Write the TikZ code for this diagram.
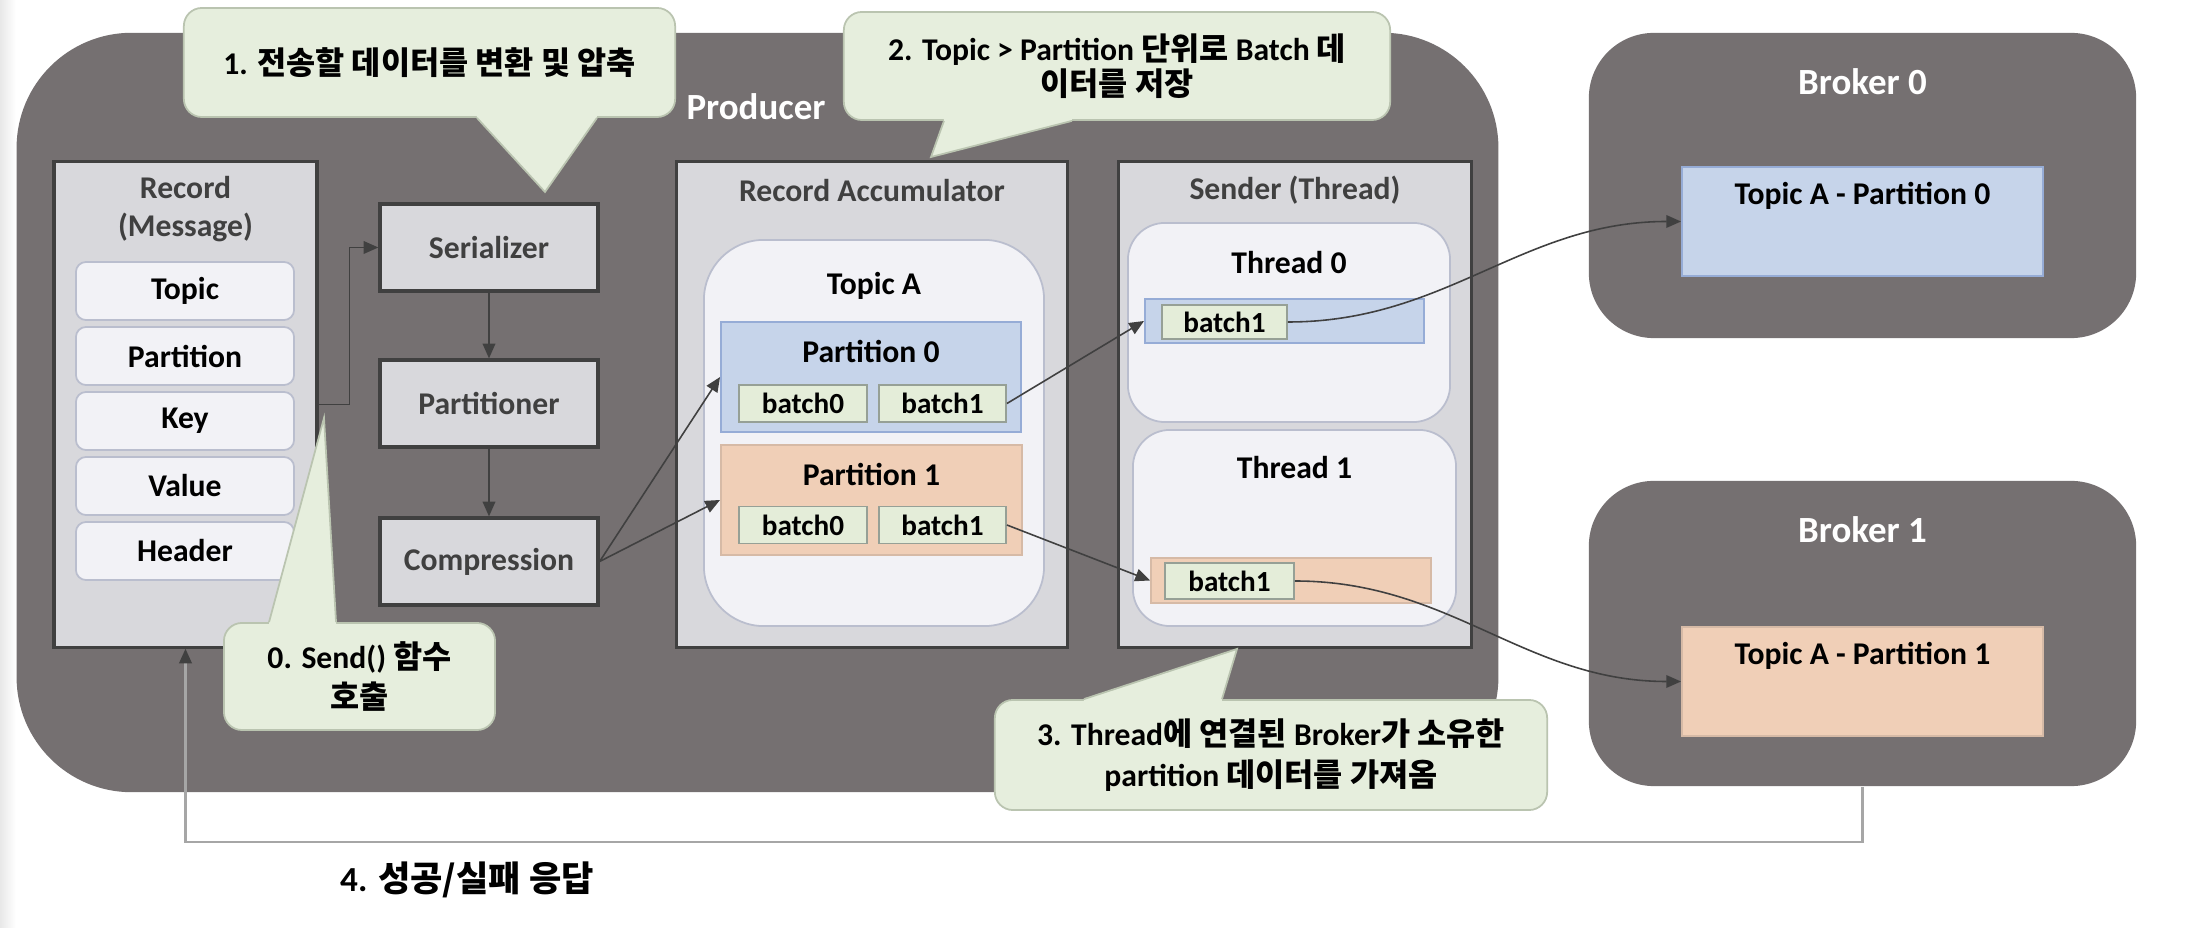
\documentclass[tikz,border=0pt]{standalone}
\usepackage{fontspec}
\setmainfont{Carlito}
\newfontfamily\krfont{Noto Sans CJK KR}
\newcommand{\hg}[1]{{\krfont #1}}
\usetikzlibrary{arrows.meta}
\usetikzlibrary{calc}
\usetikzlibrary{positioning}

\definecolor{prodgray}{RGB}{117,112,113}
\definecolor{boxgray}{RGB}{216,216,220}
\definecolor{boxline}{RGB}{64,64,64}
\definecolor{pale}{RGB}{242,242,246}
\definecolor{paleline}{RGB}{186,190,206}
\definecolor{partblue}{RGB}{198,212,234}
\definecolor{blueline}{RGB}{150,172,214}
\definecolor{partpeach}{RGB}{240,207,183}
\definecolor{peachline}{RGB}{214,186,166}
\definecolor{batchgreen}{RGB}{228,237,217}
\definecolor{batchline}{RGB}{150,160,150}
\definecolor{callfill}{RGB}{230,238,221}
\definecolor{callline}{RGB}{186,196,176}
\definecolor{txtgray}{RGB}{64,64,64}

\begin{document}
\begin{tikzpicture}[%
		x=0.01cm, y=-0.01cm,
		>={Triangle[length=4.2pt,width=3.6pt]},
		every node/.style={font=\bfseries\fontsize{9}{11}\selectfont, inner sep=0pt},
		darkbox/.style={rectangle, fill=prodgray, draw=none},
		gbox/.style={rectangle, fill=boxgray, draw=boxline, line width=0.9pt},
		palebox/.style={rectangle, rounded corners=0.6cm, fill=pale, draw=paleline, line width=0.5pt},
		field/.style={rectangle, rounded corners=0.1cm, fill=pale, draw=paleline, line width=0.5pt, minimum width=2.18cm, minimum height=0.58cm},
		stage/.style={gbox, minimum width=2.18cm, minimum height=0.87cm, text=txtgray},
		bluebox/.style={rectangle, fill=partblue, draw=blueline, line width=0.5pt},
		peachbox/.style={rectangle, fill=partpeach, draw=peachline, line width=0.5pt},
		batch/.style={rectangle, fill=batchgreen, draw=batchline, line width=0.5pt, minimum height=0.37cm, font=\bfseries\fontsize{8.3}{10}\selectfont},
		hdr/.style={text=txtgray, align=center},
		big/.style={text=white, font=\bfseries\fontsize{10.5}{12}\selectfont},
		callout/.style={rectangle, rounded corners=0.18cm, fill=callfill, draw=callline, line width=0.5pt, align=center, font=\bfseries\fontsize{9}{11.5}\selectfont},
		arr/.style={->, draw=black!75, line width=0.45pt},
		retline/.style={-{Triangle[length=4.2pt,width=3.6pt,color=black!75]}, draw=black!35, line width=0.6pt}
		]
		% 2196 x 928 px, 1px = 0.01cm, y downwards
		\fill[white] (0,0) rectangle (2196,928);
		\shade[left color=black!9, right color=white] (0,0) rectangle (16,928);
		\useasboundingbox (0,0) rectangle (2196,928);
		%%%%%%%%%%%%%%%
		%    NODES    %
		%%%%%%%%%%%%%%%
		% Producer / brokers
		\node[darkbox, rounded corners=1.15cm, minimum width=14.81cm, minimum height=7.59cm] (prod) at (757.5,412.5) {};
		\node[big] (prodT) at (756,107) {Producer};
		\node[darkbox, rounded corners=0.65cm, minimum width=5.47cm, minimum height=3.05cm] (b0) at (1862.5,185.5) {};
		\node[darkbox, rounded corners=0.65cm, minimum width=5.47cm, minimum height=3.05cm] (b1) at (1862.5,633.5) {};
		\node[big] (b0T) at ($(b0.north)+(0,49)$) {Broker 0};
		\node[big] (b1T) at ($(b1.north)+(0,49)$) {Broker 1};
		\node[bluebox, minimum width=3.61cm, minimum height=1.09cm] (bp0) at (1862.5,221.5) {};
		\node (bp0T) at ($(bp0.north)+(0,30)$) {Topic A - Partition 0};
		\node[peachbox, minimum width=3.61cm, minimum height=1.09cm] (bp1) at (1862.5,681.5) {};
		\node (bp1T) at ($(bp1.north)+(0,30)$) {Topic A - Partition 1};
		
		% Record
		\node[gbox, minimum width=2.63cm, minimum height=4.85cm] (rec) at (185.5,404.5) {};
		\node[hdr, font=\bfseries\fontsize{9}{10.8}\selectfont] (recT) at ($(rec.north)+(0,49)$) {Record\\(Message)};
		\foreach \f [count=\i] in {Topic,Partition,Key,Value,Header}
			\node[field] (f\i) at (185, 226+65*\i) {\f};
		
		% Serializer -> Compression
		\node[stage] (ser) at (489,247.5) {Serializer};
		\node[stage] (par) at (489,403.5) {Partitioner};
		\node[stage] (cmp) at (489,561.5) {Compression};
		
		% Record Accumulator
		\node[gbox, minimum width=3.90cm, minimum height=4.85cm] (acc) at (872,404.5) {};
		\node[hdr] (accT) at ($(acc.north)+(0,30)$) {Record Accumulator};
		\node[palebox, minimum width=3.40cm, minimum height=3.86cm] (topA) at (874,433) {};
		\node (topAT) at ($(topA.north)+(0,47)$) {Topic A};
		\node[bluebox, minimum width=3.00cm, minimum height=1.10cm] (p0) at (871,377) {};
		\node (p0T) at ($(p0.north)+(0,30)$) {Partition 0};
		\node[batch, minimum width=1.28cm] (p0b0) at (803,403.5) {batch0};
		\node[batch, minimum width=1.27cm] (p0b1) at (942.5,403.5) {batch1};
		\node[peachbox, minimum width=3.01cm, minimum height=1.10cm] (p1) at (871.5,500) {};
		\node (p1T) at ($(p1.north)+(0,30)$) {Partition 1};
		\node[batch, minimum width=1.28cm] (p1b0) at (803,525) {batch0};
		\node[batch, minimum width=1.27cm] (p1b1) at (942.5,525) {batch1};
		
		% Sender
		\node[gbox, minimum width=3.52cm, minimum height=4.85cm] (snd) at (1295,404.5) {};
		\node[hdr] (sndT) at ($(snd.north)+(0,30)$) {Sender (Thread)};
		\node[palebox, rounded corners=0.37cm, minimum width=3.22cm, minimum height=1.99cm] (th0) at (1289,322.5) {};
		\node (th0T) at ($(th0.north)+(0,40)$) {Thread 0};
		\node[bluebox, minimum width=2.79cm, minimum height=0.44cm] (t0bar) at (1284.5,321) {};
		\node[batch, minimum width=1.25cm, minimum height=0.34cm] (t0b1) at (1224.5,322) {batch1};
		\node[palebox, rounded corners=0.37cm, minimum width=3.23cm, minimum height=1.96cm] (th1) at (1294.5,528) {};
		\node (th1T) at ($(th1.north)+(0,38)$) {Thread 1};
		\node[peachbox, minimum width=2.80cm, minimum height=0.45cm] (t1bar) at (1291,580.5) {};
		\node[batch, minimum width=1.29cm, minimum height=0.36cm] (t1b1) at (1229.5,581) {batch1};
		
		%%%%%%%%%%%%%%%
		% CONNECTIONS %
		%%%%%%%%%%%%%%%
		\draw[arr] (rec.east) -- ++(31,0) |- (ser.west);
		\draw[arr] (ser.south) -- (par.north);
		\draw[arr] (par.south) -- (cmp.north);
		\draw[arr] (cmp.east) -- (p0.west);
		\draw[arr] (cmp.east) -- (p1.west);
		\draw[arr] (p0b1.east) -- (t0bar.west);
		\draw[arr] (p1b1.east) -- (t1bar.west);
		\draw[arr] (t0b1.east) to[out=0, in=180] (bp0.west);
		\draw[arr] (t1b1.east) to[out=0, in=180] (bp1.west);
		
		% response back to the record
		\coordinate (ret) at (1000,842);
		\draw[retline] (b1.south) |- (ret) -| (rec.south);
		\node[font=\bfseries\fontsize{10}{12}\selectfont] (ack) at (467,880) {4. \hg{성공/실패 응답}};
		
		%%%%%%%%%%%%%%%
		%  CALLOUTS   %
		%%%%%%%%%%%%%%%
		\coordinate (t0) at (324,418);
		\coordinate (t1) at (545,192);
		\coordinate (t2) at (931,157);
		\coordinate (t3) at (1237,649);
		
		% 0. send
		\node[callout, minimum width=2.71cm, minimum height=1.07cm] (c0) at (359.5,676.5) {0. Send() \hg{함수}\\\hg{호출}};
		\fill[callfill] ($(c0.north west)+(46,0)$) -- (t0) -- ($(c0.north west)+(113,0)$) -- ++(0,6) -- ($(c0.north west)+(46,6)$) -- cycle;
		\draw[callline, line width=0.5pt] ($(c0.north west)+(46,0)$) -- (t0) -- ($(c0.north west)+(113,0)$);
		
		% 1. serialize
		\node[callout, minimum width=4.91cm, minimum height=1.09cm] (c1) at (429.5,62.5) {1. \hg{전송할 데이터를 변환 및 압축}};
		\fill[callfill] ($(c1.south west)+(294,0)$) -- (t1) -- ($(c1.south west)+(414,0)$) -- ++(0,-6) -- ($(c1.south west)+(294,-6)$) -- cycle;
		\draw[callline, line width=0.5pt] ($(c1.south west)+(294,0)$) -- (t1) -- ($(c1.south west)+(414,0)$);
		
		% 2. accumulate
		\node[callout, font=\bfseries\fontsize{9}{10}\selectfont, minimum width=5.46cm, minimum height=1.08cm] (c2) at (1117,66) {2. Topic > Partition \hg{단위로} Batch \hg{데}\\\hg{이터를 저장}};
		\fill[callfill] ($(c2.south west)+(101,0)$) -- (t2) -- ($(c2.south west)+(229,0)$) -- ++(0,-6) -- ($(c2.south west)+(101,-6)$) -- cycle;
		\draw[callline, line width=0.5pt] ($(c2.south west)+(101,0)$) -- (t2) -- ($(c2.south west)+(229,0)$);
		
		% 3. send thread
		\node[callout, minimum width=5.52cm, minimum height=1.10cm] (c3) at (1271,755) {3. Thread\hg{에 연결된} Broker\hg{가 소유한}\\partition \hg{데이터를 가져옴}};
		\fill[callfill] ($(c3.north west)+(90,0)$) -- (t3) -- ($(c3.north west)+(228,0)$) -- ++(0,6) -- ($(c3.north west)+(90,6)$) -- cycle;
		\draw[callline, line width=0.5pt] ($(c3.north west)+(90,0)$) -- (t3) -- ($(c3.north west)+(228,0)$);
		
	\end{tikzpicture}
\end{document}
